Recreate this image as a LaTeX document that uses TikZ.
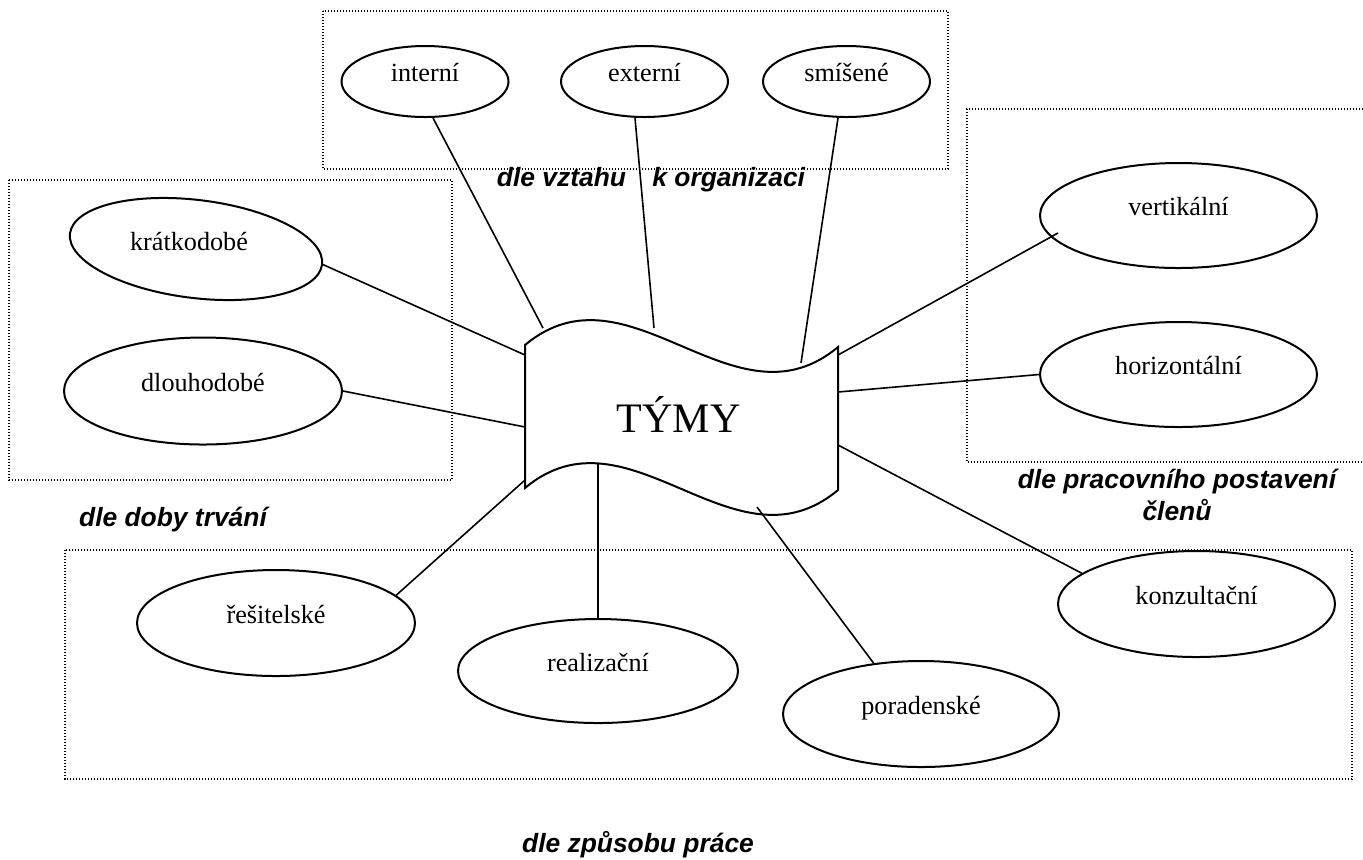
\documentclass[tikz,border=0pt]{standalone}
\usepackage{fontspec}
\setmainfont{Liberation Serif}
\newfontfamily\labfont{Liberation Sans}
\usetikzlibrary{shapes.geometric}

\begin{document}
\begin{tikzpicture}[x=0.5pt,y=-0.5pt,
  leaftext/.style={inner sep=0pt, text height=0pt, text depth=0pt,
    font=\fontsize{13.1}{15}\selectfont},
  leaf/.style={leaftext, ellipse, draw, line width=1pt},
  group/.style={draw, line width=0.6pt, dash pattern=on 0.6pt off 0.9pt},
  heading/.style={font=\labfont\bfseries\itshape\fontsize{13.2}{16}\selectfont,
    inner sep=0pt, anchor=base},
  link/.style={line width=0.8pt}]

\useasboundingbox (0,0) rectangle (1363,859);

% dotted group frames
\draw[group] (323,11) rectangle (948,169);
\draw[group] (9,180) rectangle (452,480);
\draw[group] (1363,109) -- (967,109) -- (967,462) -- (1363,462);
\draw[group] (65,550) rectangle (1352,779);

% central wave banner
\draw[line width=1pt, fill=white]
  (525,345) .. controls (629,258) and (734,434) .. (838,347)
  -- (838,490) .. controls (734,577) and (629,401) .. (525,488) -- cycle;
\node[anchor=base, inner sep=0pt, font=\fontsize{21}{24}\selectfont] (tymy) at (678.5,432) {TÝMY};

% attachment points on the banner
\coordinate (w-kr) at (525,355);
\coordinate (w-dl) at (525,427);
\coordinate (w-in) at (543,328);
\coordinate (w-ex) at (654,328);
\coordinate (w-sm) at (801,363);
\coordinate (w-ve) at (838,355);
\coordinate (w-ho) at (838,392);
\coordinate (w-ko) at (838,445);
\coordinate (w-po) at (757,507);
\coordinate (w-re) at (598,463);
\coordinate (w-rs) at (525,480);

% categories
\node[leaf, minimum width=83.5pt, minimum height=35.5pt] (in) at (425,81.5) {interní};
\node[leaf, minimum width=83.5pt, minimum height=35.5pt] (ex) at (644.5,81.5) {externí};
\node[leaf, minimum width=83.5pt, minimum height=35.5pt] (sm) at (846.5,81.5) {smíšené};

\node[leaf, rotate=-7, minimum width=127pt, minimum height=49pt] (kr) at (196,249) {};
\node[leaftext] (kr-t) at (189,250) {krátkodobé};
\node[leaf, minimum width=139pt, minimum height=53.5pt] (dl) at (203,391) {dlouhodobé};

\node[leaf, minimum width=138.5pt, minimum height=52.5pt] (ve) at (1178.5,215.5) {vertikální};
\node[leaf, minimum width=138.5pt, minimum height=52.5pt] (ho) at (1178.5,374.5) {horizontální};

\node[leaf, minimum width=138.5pt, minimum height=53pt] (ko) at (1196.5,604) {konzultační};
\node[leaf, minimum width=138pt, minimum height=53pt] (po) at (921,714) {poradenské};
\node[leaf, minimum width=140pt, minimum height=52pt] (re) at (598,671) {realizační};
\node[leaf, minimum width=139pt, minimum height=53pt] (rs) at (276,623) {řešitelské};

% group headings
\node[heading] (h-org) at (651,186) {dle vztahu\hspace{1em}k organizaci};
\node[heading] (h-dob) at (173,526) {dle doby trvání};
\node[heading, align=center] (h-pra) at (1177,520) {dle pracovního postavení\\členů};
\node[heading] (h-zp) at (638,852) {dle způsobu práce};

% connectors
\draw[link] (w-kr) -- (kr.east);
\draw[link] (w-dl) -- (dl.east);
\draw[link] (w-in) -- ([xshift=4pt]in.south);
\draw[link] (w-ex) -- ([xshift=-4.75pt]ex.south);
\draw[link] (w-sm) -- ([xshift=-4.25pt]sm.south);
\draw[link] (w-ve) -- ([xshift=-60.25pt,yshift=-8.75pt]ve.center);
\draw[link] (w-ho) -- (ho.west);
\draw[link] (w-ko) -- (ko.165);
\draw[link] (w-po) -- (po.133);
\draw[link] (w-re) -- (re.north);
\draw[link] (w-rs) -- (rs.13);

\end{tikzpicture}
\end{document}
